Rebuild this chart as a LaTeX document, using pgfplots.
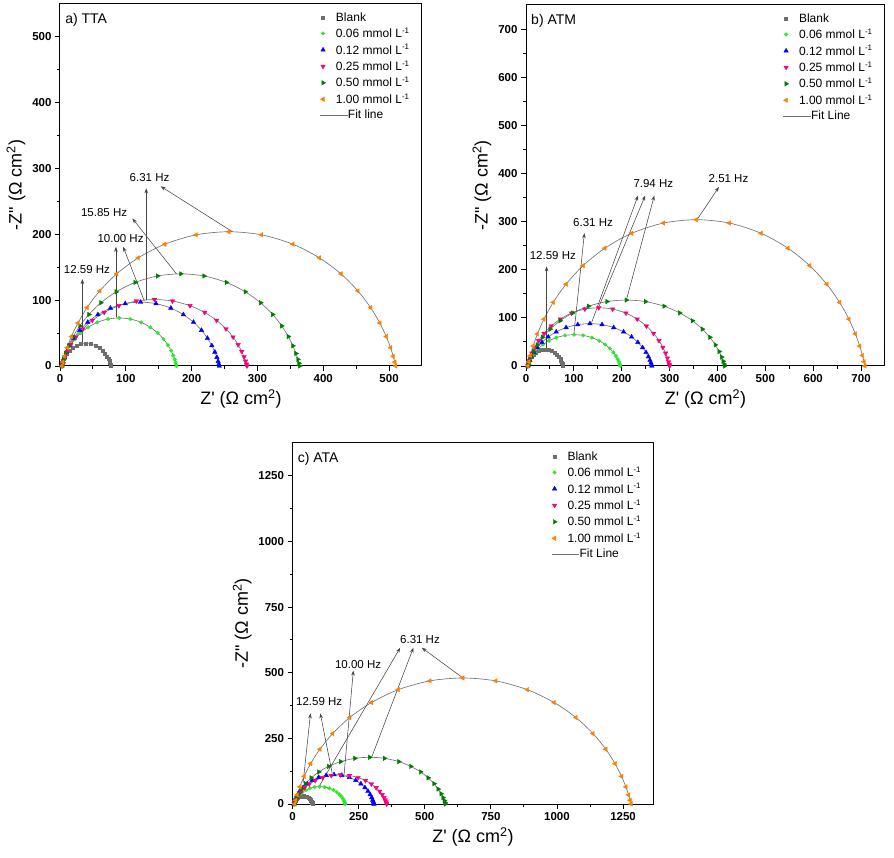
\documentclass[border=0pt]{standalone}
\usepackage{pgfplots}
\pgfplotsset{compat=1.18}
\usepackage{pgfplotstable}
\usepackage{fontspec}
\setmainfont{Liberation Sans}[BoldFont={Liberation Sans Bold}]
\newfontfamily\tickfont{Liberation Sans Bold}
\newcommand{\tl}[1]{{\tickfont\fontsize{11.5}{13}\selectfont #1}}
\usetikzlibrary{arrows.meta}

\definecolor{cK}{RGB}{110,110,110}
\definecolor{cG}{RGB}{40,235,40}
\definecolor{cB}{RGB}{0,0,255}
\definecolor{cP}{RGB}{250,0,125}
\definecolor{cD}{RGB}{0,125,0}
\definecolor{cO}{RGB}{255,128,0}
\definecolor{cFit}{RGB}{115,115,115}
\definecolor{cAnn}{RGB}{70,70,70}

% ---------------- Panel a (TTA) ----------------
\pgfplotstableread{
x y
77 0
76.8 0.99
76.45 2.45
75.84 4.62
74.88 7.45
73.44 10.88
71.37 14.79
68.51 19.01
64.71 23.32
59.87 27.37
53.9 30.84
46.83 33.22
39.5 34
32.17 33.22
25.1 30.84
19.13 27.37
14.29 23.32
10.49 19.01
7.63 14.79
5.56 10.88
4.12 7.45
3.16 4.62
2.55 2.45
2.2 0.99
2 0
}\aK
\pgfplotstableread{
x y
177 0
176.53 2.12
175.73 5.26
174.32 9.93
172.09 15.99
168.73 23.36
163.93 31.76
157.3 40.81
148.5 50.08
137.26 58.77
123.41 66.21
107.02 71.32
90 73
72.98 71.32
56.59 66.21
42.74 58.77
31.5 50.08
22.7 40.81
16.07 31.76
11.27 23.36
7.91 15.99
5.68 9.93
4.27 5.26
3.47 2.12
3 0
}\aG
\pgfplotstableread{
x y
242 0
241.36 2.81
240.26 6.98
238.32 13.19
235.26 21.24
230.65 31.04
224.05 42.2
214.95 54.22
202.85 66.54
187.41 78.09
168.39 87.98
145.87 94.77
122.5 97
99.13 94.77
76.61 87.98
57.59 78.09
42.15 66.54
30.05 54.22
20.95 42.2
14.35 31.04
9.74 21.24
6.68 13.19
4.75 6.98
3.65 2.81
3 0
}\aB
\pgfplotstableread{
x y
284 0
283.24 2.93
281.95 7.27
279.67 13.74
276.08 22.12
270.65 32.32
262.9 43.94
252.19 56.46
237.97 69.29
219.82 81.31
197.45 91.61
170.98 98.68
143.5 101
116.02 98.68
89.55 91.61
67.18 81.31
49.03 69.29
34.81 56.46
24.1 43.94
16.35 32.32
10.92 22.12
7.33 13.74
5.05 7.27
3.76 2.93
3 0
}\aP
\pgfplotstableread{
x y
364 0
363.03 4.06
361.37 10.08
358.44 19.04
353.82 30.66
346.85 44.8
336.89 60.9
323.14 78.26
304.87 96.04
281.55 112.7
252.81 126.98
218.81 136.78
183.5 140
148.19 136.78
114.19 126.98
85.45 112.7
62.13 96.04
43.87 78.26
30.11 60.9
20.15 44.8
13.18 30.66
8.56 19.04
5.64 10.08
3.98 4.06
3 0
}\aD
\pgfplotstableread{
x y
510 0
508.63 5.92
506.3 14.69
502.19 27.74
495.7 44.68
485.92 65.28
471.92 88.74
452.61 114.04
426.95 139.94
394.2 164.22
353.84 185.03
306.09 199.31
256.5 204
206.92 199.31
159.16 185.03
118.8 164.22
86.05 139.94
60.39 114.04
41.08 88.74
27.3 65.28
17.3 44.68
10.81 27.74
6.7 14.69
4.37 5.92
3 0
}\aO

% ---------------- Panel b (ATM) ----------------
\pgfplotstableread{
x y
77 0
76.8 0.99
76.46 2.45
75.86 4.62
74.91 7.45
73.48 10.88
71.44 14.79
68.62 19.01
64.88 23.32
60.1 27.37
54.21 30.84
47.24 33.22
40 34
32.76 33.22
25.79 30.84
19.9 27.37
15.12 23.32
11.38 19.01
8.56 14.79
6.52 10.88
5.09 7.45
4.14 4.62
3.54 2.45
3.2 0.99
3 0
}\bK
\pgfplotstableread{
x y
197 0
196.48 1.89
195.59 4.68
194.03 8.84
191.56 14.24
187.83 20.8
182.51 28.28
175.15 36.34
165.39 44.59
152.92 52.33
137.56 58.96
119.38 63.51
100.5 65
81.63 63.51
63.44 58.96
48.08 52.33
35.61 44.59
25.85 36.34
18.49 28.28
13.17 20.8
9.44 14.24
6.97 8.84
5.41 4.68
4.52 1.89
4 0
}\bG
\pgfplotstableread{
x y
263 0
262.3 2.55
261.11 6.34
259.01 11.97
255.7 19.27
250.7 28.16
243.55 38.28
233.68 49.19
220.58 60.37
203.84 70.84
183.23 79.82
158.83 85.98
133.5 88
108.17 85.98
83.77 79.82
63.16 70.84
46.42 60.37
33.32 49.19
23.45 38.28
16.3 28.16
11.3 19.27
7.99 11.97
5.89 6.34
4.7 2.55
4 0
}\bB
\pgfplotstableread{
x y
300 0
299.2 3.51
297.84 8.71
295.44 16.46
291.65 26.5
285.94 38.72
277.77 52.64
266.49 67.64
251.52 83.01
232.39 97.41
208.83 109.75
180.95 118.22
152 121
123.05 118.22
95.17 109.75
71.61 97.41
52.49 83.01
37.51 67.64
26.23 52.64
18.06 38.72
12.35 26.5
8.56 16.46
6.16 8.71
4.8 3.51
4 0
}\bP
\pgfplotstableread{
x y
415 0
413.89 3.97
412 9.86
408.67 18.63
403.41 30
395.48 43.84
384.13 59.6
368.48 76.58
347.68 93.98
321.13 110.29
288.41 124.26
249.7 133.85
209.5 137
169.3 133.85
130.59 124.26
97.87 110.29
71.32 93.98
50.53 76.58
34.87 59.6
23.52 43.84
15.59 30
10.33 18.63
7.0 9.86
5.11 3.97
4 0
}\bD
\pgfplotstableread{
x y
708 0
706.1 8.82
702.86 21.89
697.16 41.34
688.15 66.58
674.56 97.28
655.13 132.24
628.31 169.94
592.69 208.54
547.21 244.72
491.17 275.73
424.85 297.01
356 304
287.15 297.01
220.83 275.73
164.79 244.72
119.31 208.54
83.69 169.94
56.87 132.24
37.44 97.28
23.85 66.58
14.84 41.34
9.14 21.89
5.9 8.82
4 0
}\bO

% ---------------- Panel c (ATA) ----------------
\pgfplotstableread{
x y
76 0
75.81 0.87
75.48 2.16
74.91 4.08
74 6.57
72.63 9.6
70.67 13.05
67.96 16.77
64.37 20.58
59.78 24.15
54.13 27.21
47.44 29.31
40.5 30
33.56 29.31
26.87 27.21
21.22 24.15
16.63 20.58
13.04 16.77
10.33 13.05
8.37 9.6
7.0 6.57
6.09 4.08
5.52 2.16
5.19 0.87
5 0
}\cK
\pgfplotstableread{
x y
199 0
198.48 1.91
197.59 4.75
196.03 8.98
193.56 14.45
189.83 21.12
184.51 28.71
177.15 36.89
167.39 45.28
154.92 53.13
139.56 59.86
121.38 64.48
102.5 66
83.63 64.48
65.44 59.86
50.08 53.13
37.61 45.28
27.85 36.89
20.49 28.71
15.17 21.12
11.44 14.45
8.97 8.98
7.41 4.75
6.52 1.91
6 0
}\cG
\pgfplotstableread{
x y
308 0
307.19 3.25
305.8 8.06
303.35 15.23
299.48 24.53
293.66 35.84
285.32 48.72
273.81 62.61
258.53 76.83
239.02 90.16
214.98 101.58
186.54 109.42
157 112
127.46 109.42
99.02 101.58
74.98 90.16
55.47 76.83
40.19 62.61
28.68 48.72
20.35 35.84
14.52 24.53
10.65 15.23
8.21 8.06
6.82 3.25
6 0
}\cB
\pgfplotstableread{
x y
356 0
355.06 3.22
353.45 7.99
350.61 15.1
346.13 24.31
339.38 35.52
329.72 48.29
316.38 62.05
298.67 76.15
276.06 89.36
248.2 100.68
215.23 108.45
181 111
146.77 108.45
113.8 100.68
85.94 89.36
63.33 76.15
45.62 62.05
32.29 48.29
22.63 35.52
15.87 24.31
11.39 15.1
8.56 7.99
6.95 3.22
6 0
}\cP
\pgfplotstableread{
x y
578 0
576.46 5.16
573.82 12.82
569.19 24.21
561.87 38.98
550.83 56.96
535.04 77.43
513.25 99.5
484.31 122.11
447.36 143.29
401.82 161.45
347.94 173.91
292 178
236.06 173.91
182.18 161.45
136.65 143.29
99.69 122.11
70.75 99.5
48.96 77.43
33.17 56.96
22.13 38.98
14.81 24.21
10.18 12.82
7.54 5.16
6 0
}\cD
\pgfplotstableread{
x y
1280 0
1276.57 13.92
1270.71 34.56
1260.41 65.28
1244.13 105.12
1219.58 153.6
1184.47 208.8
1136.01 268.32
1071.65 329.28
989.48 386.4
888.22 435.36
768.4 468.96
644 480
519.6 468.96
399.78 435.36
298.53 386.4
216.35 329.28
151.99 268.32
103.53 208.8
68.42 153.6
43.87 105.12
27.59 65.28
17.29 34.56
11.43 13.92
8 0
}\cO

\pgfplotsset{
  nyq/.style={
    scale only axis, anchor=south west,
    xmin=0, ymin=0,
    tick align=outside, tick pos=left,
    minor tick num=1,
    major tick length=5pt, minor tick length=3pt,
    axis line style={line width=1pt},
    every tick/.style={black, line width=0.9pt},
    scaled ticks=false,
    xticklabel style={font=\tickfont\fontsize{11.5}{13}\selectfont},
    yticklabel style={font=\tickfont\fontsize{11.5}{13}\selectfont},
    every axis x label/.append style={font=\fontsize{18}{20}\selectfont},
    every axis y label/.append style={font=\fontsize{18}{20}\selectfont},
    xlabel={Z\textquotesingle\ (Ω cm\textsuperscript{2})},
    ylabel={-Z\textquotedbl\ (Ω cm\textsuperscript{2})},
    legend cell align=left,
    legend style={draw=none, fill=none, font=\fontsize{12}{14}\selectfont,
      anchor=north east, at={(0.978,0.986)}, row sep=2.7pt,
      nodes={inner sep=1.2pt}},
  },
  mlegend/.style={legend image code/.code={%
      \path[draw=none,fill=none] (0cm,0cm) -- (0.5cm,0cm);
      \draw[##1] plot coordinates {(0.1cm,0cm)};}},
  fitlegend/.style={legend image code/.code={%
      \draw[cFit, line width=0.7pt] (0cm,0cm) -- (0.5cm,0cm);
      \draw[cFit, line width=0.7pt, overlay] (0.5cm,0cm) -- (0.97cm,0cm);}},
  mK/.style={only marks, mark=square*, mark size=1.5pt, color=cK, mlegend},
  mG/.style={only marks, mark=*, mark size=1.8pt, color=cG, mlegend},
  mB/.style={only marks, mark=triangle*, mark size=2.6pt, color=cB, mlegend},
  mP/.style={only marks, mark=triangle*, mark size=2.6pt, mark options={rotate=180}, color=cP, mlegend},
  mD/.style={only marks, mark=triangle*, mark size=2.6pt, mark options={rotate=-90}, color=cD, mlegend},
  mO/.style={only marks, mark=triangle*, mark size=2.6pt, mark options={rotate=90}, color=cO, mlegend},
  fit/.style={forget plot, no marks, smooth, color=cFit, line width=0.65pt},
}
\tikzset{
  annot/.style={draw=cAnn, line width=0.55pt, -{Stealth[length=5pt,width=3.6pt]}},
  anntext/.style={font=\fontsize{11.5}{13}\selectfont, inner sep=0pt},
  ptitle/.style={anchor=north west, font=\fontsize{14}{16}\selectfont, inner sep=0pt},
}

\begin{document}
\begin{tikzpicture}[x=1pt,y=1pt]
\useasboundingbox (0,0) rectangle (894,857);

% ---------- a) TTA ----------
\begin{axis}[nyq, at={(60pt,491pt)}, width=362pt, height=362pt,
  xmax=550, ymax=550,
  xtick={0,100,200,300,400,500},
  xticklabels={\tl{0},\tl{100},\tl{200},\tl{300},\tl{400},\tl{500}},
  ytick={0,100,200,300,400,500},
  yticklabels={\tl{0},\tl{100},\tl{200},\tl{300},\tl{400},\tl{500}}]
\addplot[mK] table {\aK}; \addlegendentry{Blank}
\addplot[mG] table {\aG}; \addlegendentry{0.06 mmol L\textsuperscript{-1}}
\addplot[mB] table {\aB}; \addlegendentry{0.12 mmol L\textsuperscript{-1}}
\addplot[mP] table {\aP}; \addlegendentry{0.25 mmol L\textsuperscript{-1}}
\addplot[mD] table {\aD}; \addlegendentry{0.50 mmol L\textsuperscript{-1}}
\addplot[mO] table {\aO}; \addlegendentry{1.00 mmol L\textsuperscript{-1}}
\addlegendimage{fitlegend} \addlegendentry{\hspace*{12pt}Fit line}
\addplot[fit] table {\aK};
\addplot[fit] table {\aG};
\addplot[fit] table {\aB};
\addplot[fit] table {\aP};
\addplot[fit] table {\aD};
\addplot[fit] table {\aO};
\node[ptitle] at (rel axis cs:0.014,0.976) {a) TTA};
\node[anntext] at (axis cs:41,147) {12.59 Hz};
\draw[annot] (axis cs:34,34) -- (axis cs:34,132);
\node[anntext] at (axis cs:92,194) {10.00 Hz};
\draw[annot] (axis cs:85,74) -- (axis cs:85,181);
\draw[annot] (axis cs:128,99) -- (axis cs:96,181);
\node[anntext] at (axis cs:67,233) {15.85 Hz};
\draw[annot] (axis cs:177,140) -- (axis cs:110,224);
\node[anntext] at (axis cs:136,287) {6.31 Hz};
\draw[annot] (axis cs:131,100) -- (axis cs:131,270);
\draw[annot] (axis cs:262,204) -- (axis cs:153,273);
\end{axis}

% ---------- b) ATM ----------
\begin{axis}[nyq, at={(526pt,491pt)}, width=359pt, height=361pt,
  xmax=750, ymax=750,
  xtick={0,100,200,300,400,500,600,700},
  xticklabels={\tl{0},\tl{100},\tl{200},\tl{300},\tl{400},\tl{500},\tl{600},\tl{700}},
  ytick={0,100,200,300,400,500,600,700},
  yticklabels={\tl{0},\tl{100},\tl{200},\tl{300},\tl{400},\tl{500},\tl{600},\tl{700}}]
\addplot[mK] table {\bK}; \addlegendentry{Blank}
\addplot[mG] table {\bG}; \addlegendentry{0.06 mmol L\textsuperscript{-1}}
\addplot[mB] table {\bB}; \addlegendentry{0.12 mmol L\textsuperscript{-1}}
\addplot[mP] table {\bP}; \addlegendentry{0.25 mmol L\textsuperscript{-1}}
\addplot[mD] table {\bD}; \addlegendentry{0.50 mmol L\textsuperscript{-1}}
\addplot[mO] table {\bO}; \addlegendentry{1.00 mmol L\textsuperscript{-1}}
\addlegendimage{fitlegend} \addlegendentry{\hspace*{12pt}Fit Line}
\addplot[fit] table {\bK};
\addplot[fit] table {\bG};
\addplot[fit] table {\bB};
\addplot[fit] table {\bP};
\addplot[fit] table {\bD};
\addplot[fit] table {\bO};
\node[ptitle] at (rel axis cs:0.014,0.976) {b) ATM};
\node[anntext] at (axis cs:56,230) {12.59 Hz};
\draw[annot] (axis cs:43,35) -- (axis cs:43,207);
\node[anntext] at (axis cs:140,299) {6.31 Hz};
\draw[annot] (axis cs:100,66) -- (axis cs:122,276);
\node[anntext] at (axis cs:266,380) {7.94 Hz};
\draw[annot] (axis cs:137,90) -- (axis cs:234,354);
\draw[annot] (axis cs:150,118) -- (axis cs:249,354);
\draw[annot] (axis cs:210,138) -- (axis cs:268,354);
\node[anntext] at (axis cs:423,389) {2.51 Hz};
\draw[annot] (axis cs:358,305) -- (axis cs:403,372);
\end{axis}

% ---------- c) ATA ----------
\begin{axis}[nyq, at={(292.5pt,53pt)}, width=361pt, height=361pt,
  xmax=1365, ymax=1375,
  xtick={0,250,500,750,1000,1250},
  xticklabels={\tl{0},\tl{250},\tl{500},\tl{750},\tl{1000},\tl{1250}},
  ytick={0,250,500,750,1000,1250},
  yticklabels={\tl{0},\tl{250},\tl{500},\tl{750},\tl{1000},\tl{1250}}]
\addplot[mK] table {\cK}; \addlegendentry{Blank}
\addplot[mG] table {\cG}; \addlegendentry{0.06 mmol L\textsuperscript{-1}}
\addplot[mB] table {\cB}; \addlegendentry{0.12 mmol L\textsuperscript{-1}}
\addplot[mP] table {\cP}; \addlegendentry{0.25 mmol L\textsuperscript{-1}}
\addplot[mD] table {\cD}; \addlegendentry{0.50 mmol L\textsuperscript{-1}}
\addplot[mO] table {\cO}; \addlegendentry{1.00 mmol L\textsuperscript{-1}}
\addlegendimage{fitlegend} \addlegendentry{\hspace*{12pt}Fit Line}
\addplot[fit] table {\cK};
\addplot[fit] table {\cG};
\addplot[fit] table {\cB};
\addplot[fit] table {\cP};
\addplot[fit] table {\cD};
\addplot[fit] table {\cO};
\node[ptitle] at (rel axis cs:0.014,0.976) {c) ATA};
\node[anntext] at (axis cs:101,390) {12.59 Hz};
\draw[annot] (axis cs:40,80) -- (axis cs:68,345);
\draw[annot] (axis cs:150,118) -- (axis cs:105,345);
\node[anntext] at (axis cs:248,533) {10.00 Hz};
\draw[annot] (axis cs:195,112) -- (axis cs:230,508);
\node[anntext] at (axis cs:482,627) {6.31 Hz};
\draw[annot] (axis cs:100,66) -- (axis cs:407,595);
\draw[annot] (axis cs:300,180) -- (axis cs:457,595);
\draw[annot] (axis cs:642,482) -- (axis cs:489,595);
\end{axis}
\end{tikzpicture}
\end{document}
